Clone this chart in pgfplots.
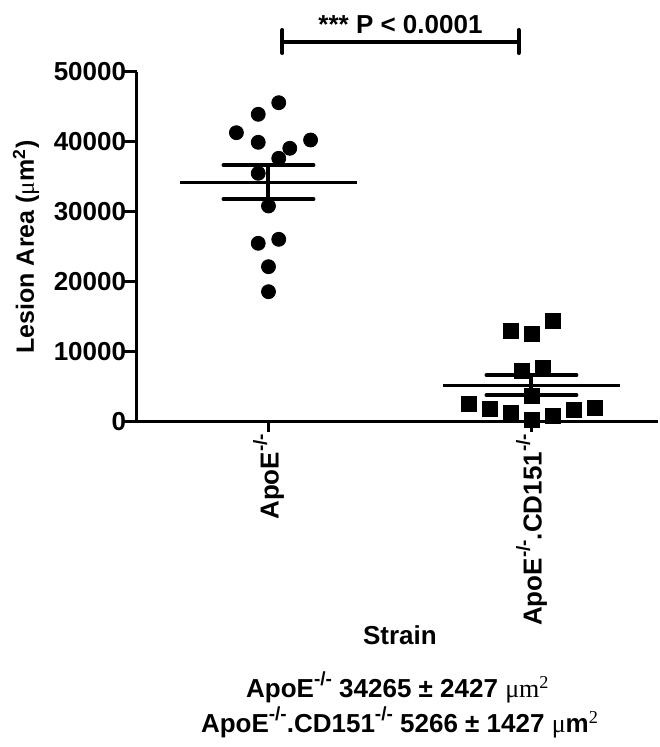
\documentclass[border=0pt]{standalone}
\usepackage{fontspec}
\setmainfont{Liberation Sans}
\newfontfamily\serifmu{Liberation Serif}
\usepackage{pgfplots}
\pgfplotsset{compat=1.18}
\newcommand{\ko}{\raisebox{0.45em}{\fontsize{9.5}{10}\selectfont -/-}}
\newcommand{\mum}{{\serifmu\mdseries μ}}
\begin{document}
\begin{tikzpicture}[font=\fontsize{13}{15}\selectfont\bfseries]
	\begin{axis}[
	scale only axis,
	width=260.35pt, height=175pt,
	at={(0,0)}, anchor=south west,
	clip=false,
	axis lines=left,
	axis line style={-, line width=1.5pt},
	xmin=-0.5, xmax=1.48,
	ymin=0, ymax=50000,
	xtick={0,1},
	xticklabels={ApoE\ko, ApoE\ko.CD151\ko},
	ytick={0,10000,20000,30000,40000,50000},
	scaled y ticks=false,
	/pgf/number format/assume math mode=true,
	yticklabel={\pgfmathprintnumber[1000 sep={}]{\tick}},
	tick align=outside,
	xtick style={line width=1.5pt, black, /pgfplots/major tick length=5pt},
	ytick style={line width=1.5pt, black, /pgfplots/major tick length=7pt},
	xticklabel style={rotate=90, anchor=east, inner sep=1.5pt},
	yticklabel style={inner sep=1pt},
	xlabel={Strain},
	xlabel style={at={(axis description cs:0.505,-0.637)}, anchor=base},
	ylabel={Lesion Area (\mum m\textsuperscript{2})},
	ylabel style={at={(axis description cs:-0.213,0.5)}, rotate=0, anchor=center, font=\fontsize{12.5}{15}\selectfont\bfseries},
	]
	% mean and SEM, ApoE-/-
	\addplot[black, line width=1.6pt] coordinates {(-0.335,34265) (0.335,34265)};
	\addplot[black, line width=2pt, line cap=round] coordinates {(-0.171,36692) (0.171,36692)};
	\addplot[black, line width=2pt, line cap=round] coordinates {(-0.171,31838) (0.171,31838)};
	\addplot[black, line width=2pt] coordinates {(0,31838) (0,36692)};
	% mean and SEM, ApoE-/-.CD151-/-
	\addplot[black, line width=1.6pt] coordinates {(0.665,5266) (1.335,5266)};
	\addplot[black, line width=2pt, line cap=round] coordinates {(0.829,6693) (1.171,6693)};
	\addplot[black, line width=2pt, line cap=round] coordinates {(0.829,3839) (1.171,3839)};
	\addplot[black, line width=2pt] coordinates {(1,3839) (1,6693)};

	\addplot[only marks, mark=*, mark size=3.5pt, black] coordinates {
		(0.039,45614) (-0.039,43957) (-0.122,41329) (-0.039,39957)
		(0.160,40286) (0.081,39100) (0.039,37671) (-0.039,35529)
		(0,30857) (0.039,26100) (-0.039,25529) (0,22186) (0,18614)
	};
	\addplot[only marks, mark=square*, mark size=3.75pt, black] coordinates {
		(0.923,13000) (1.003,12524) (1.081,14471) (0.965,7329)
		(1.043,7671) (1.003,3714) (0.762,2571) (0.841,1814)
		(0.920,1243) (1.003,286) (1.081,900) (1.161,1714) (1.240,1957)
	};

	% significance bracket
	\draw[line width=2pt, line cap=round] (axis cs:0.053,54286) -- (axis cs:0.951,54286);
	\draw[line width=2pt, line cap=round] (axis cs:0.053,52714) -- (axis cs:0.053,56000);
	\draw[line width=2pt, line cap=round] (axis cs:0.951,52714) -- (axis cs:0.951,56000);
	\node at (axis cs:0.502,56714) {*** P < 0.0001};

	\node[anchor=base] at (axis description cs:0.501,-0.787) {ApoE\ko{} 34265 ± 2427 {\serifmu\mdseries μm\textsuperscript{2}}};
	\node[anchor=base] at (axis description cs:0.505,-0.887) {ApoE\ko.CD151\ko{} 5266 ± 1427 \mum m{\serifmu\mdseries\textsuperscript{2}}};
	\end{axis}
	\pgfresetboundingbox
	\path[use as bounding box] (-68.5pt,-162.5pt) rectangle (261pt,211pt);
\end{tikzpicture}
\end{document}
